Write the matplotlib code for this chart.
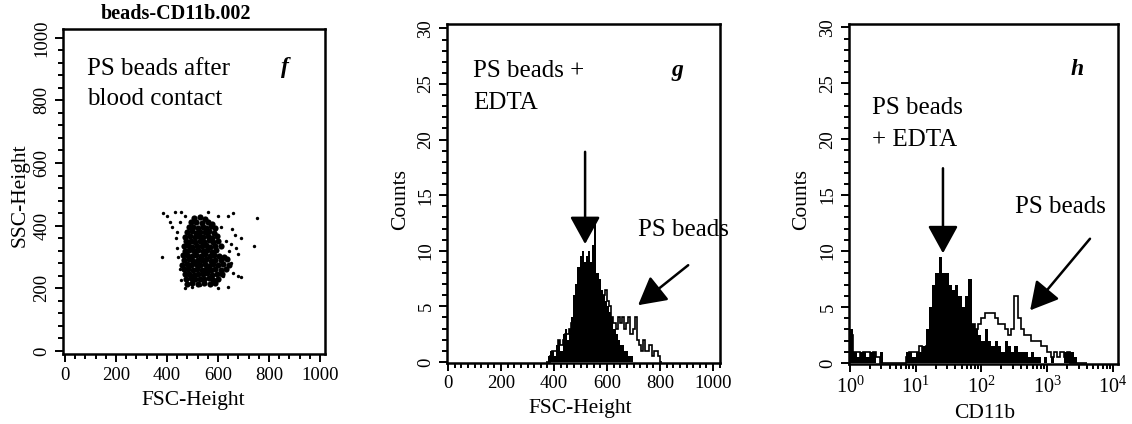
import numpy as np
import matplotlib
matplotlib.use("Agg")
import matplotlib.pyplot as plt
from matplotlib.ticker import MultipleLocator, LogLocator, NullFormatter

plt.rcParams['font.family'] = ['Liberation Serif', 'DejaVu Serif']
plt.rcParams['mathtext.fontset'] = 'stix'

# ---------------- data ----------------
# panel f : scatter (FSC-Height vs SSC-Height)
core_x = [505, 530, 548,
          495, 515, 538, 560, 575,
          488, 503, 522, 540, 555, 572, 590,
          478, 497, 512, 530, 548, 566, 583,
          470, 490, 508, 525, 541, 560, 578, 595,
          475, 493, 510, 528, 545, 563, 580, 602,
          465, 483, 500, 518, 536, 552, 570, 588, 610,
          470, 488, 505, 522, 540, 557, 575, 592,
          462, 480, 497, 515, 532, 550, 567, 585, 603, 625,
          468, 486, 503, 520, 538, 555, 573, 590, 612, 635,
          460, 477, 495, 512, 530, 548, 565, 582, 600, 620, 645,
          466, 484, 501, 518, 536, 553, 571, 590, 610, 630,
          470, 488, 506, 523, 541, 558, 576, 595, 615,
          475, 493, 510, 528, 546, 563, 582, 600,
          480, 498, 520, 545, 570, 590]
core_y = [425, 428, 422,
          410, 412, 408, 411, 406,
          395, 397, 393, 396, 394, 398, 392,
          380, 382, 378, 381, 379, 383, 377,
          365, 367, 363, 366, 364, 368, 362, 366,
          350, 352, 348, 351, 349, 353, 347, 351,
          335, 337, 333, 336, 334, 338, 332, 336, 334,
          320, 322, 318, 321, 319, 323, 317, 321,
          305, 307, 303, 306, 304, 308, 302, 306, 304, 300,
          290, 292, 288, 291, 289, 293, 287, 291, 289, 292,
          275, 277, 273, 276, 274, 278, 272, 276, 274, 277, 273,
          260, 262, 258, 261, 259, 263, 257, 261, 259, 262,
          245, 247, 243, 246, 244, 248, 242, 246, 244,
          230, 232, 228, 231, 229, 233, 227, 231,
          215, 217, 213, 218, 214, 216]
out_x = [385, 400, 430, 455, 470, 560, 600, 640, 660, 755, 420, 440, 410, 450,
         655, 665, 690, 740, 650, 670, 680, 380, 440, 445, 450, 660, 680, 690,
         470, 500, 530, 600, 640, 455, 620, 650, 435, 630, 645, 610]
out_y = [440, 430, 445, 445, 430, 445, 430, 430, 440, 425, 395, 380, 410, 410,
         390, 370, 360, 335, 340, 330, 310, 300, 330, 300, 260, 250, 240, 235,
         200, 205, 210, 200, 205, 225, 240, 280, 360, 350, 320, 395]

# panel g : FSC-Height histograms (bin width 8, first bin at 368)
g_start, g_width = 368, 8
g_edta = [0, 0.5, 1, 1, 0.5, 1.5, 2, 1, 2.5, 3, 2, 3, 4, 6, 7, 8.5, 9.5, 10, 9,
          9.5, 10, 9, 10.5, 13, 8, 7.5, 6.5, 6, 5.5, 5, 4.5, 4, 3, 2.5, 2, 1.5,
          1.5, 1, 1, 0.5, 0.5, 0, 0, 0, 0, 0, 0, 0, 0, 0, 0, 0, 0, 0, 0]
g_ps = [0, 0, 0.5, 1, 1, 1, 2, 1.5, 2, 2.5, 2.5, 3, 3.5, 3, 4, 4, 3.5, 4.5, 4,
        5, 5.5, 5, 6, 5, 5, 4.5, 5.5, 6, 6.5, 5.5, 5, 4, 3.5, 3, 4, 3.5, 4, 3,
        3.5, 4, 2.5, 3, 4, 2, 1.5, 1, 2, 1, 1, 1.5, 0.5, 1, 1, 0.5, 0]

# panel h : CD11b histograms (log bins of 0.05 decade starting at 10^0)
h_step = 0.05
h_edta = [3, 1, 0.5, 1, 1, 0.5, 1, 1, 0, 1, 0, 0, 0, 0, 0, 0, 0, 1, 1, 0.5,
          1, 1, 1.5, 3, 5, 7, 8, 9.5, 8, 8, 7, 6.5, 7, 6, 5, 6, 7.5, 3.5, 3,
          2.5, 2, 3, 2, 1.5, 2, 1.5, 1, 2, 1.5, 1, 1.5, 1, 1, 1, 0.5, 1, 0.5,
          0.5, 0, 0.5, 0, 0.5, 0, 0, 0, 1, 1, 1, 0.5, 0, 0, 0]
h_ps = [2.5, 1, 1, 0.5, 1, 1, 0.5, 1, 0.5, 0, 0, 0, 0, 0, 0, 0, 0, 0.5, 1, 1,
        1, 1.5, 1, 1.5, 2, 2, 2.5, 2, 2.5, 3, 2.5, 3, 2.5, 3, 2.5, 3, 3, 3.5,
        3, 3.5, 4, 4.5, 4.5, 4.5, 4, 3.5, 3.5, 3, 2.5, 3, 6, 4, 3, 2.5, 2.5,
        2, 2, 2, 1.5, 1.5, 1, 0.5, 1, 0.5, 1, 0.5, 1, 0, 0, 0, 0, 0]

lin_ticks = [0, 200, 400, 600, 800, 1000]
count_ticks = [0, 5, 10, 15, 20, 25, 30]

# ---------------- figure ----------------
W, H = 1132, 424
fig = plt.figure(figsize=(W / 100, H / 100), dpi=100)

ANN = 18
LAB = 15.5


def px_axes(l, t, r, b):
    return fig.add_axes([l / W, (H - b) / H, (r - l) / W, (b - t) / H])


def style(ax):
    for s in ax.spines.values():
        s.set_linewidth(1.8)
    ax.tick_params(which='both', direction='out', width=1.4, top=False, right=False)
    ax.tick_params(which='major', length=6, labelsize=13.5, pad=3)
    ax.tick_params(which='minor', length=3.5)
    plt.setp(ax.get_yticklabels(), rotation=90, va='center')


def fig_text(x, y, s, **kw):
    fig.text(x / W, 1 - y / H, s, ha='center', va='center', **kw)


# panel f
axf = px_axes(63, 29, 325, 354)
axf.scatter(core_x, core_y, s=20, c='black', marker='o', linewidths=0)
axf.scatter(out_x, out_y, s=6, c='black', marker='o', linewidths=0)
axf.set_xlim(-8, 1020)
axf.set_ylim(-10, 1028)
axf.set_xticks(lin_ticks)
axf.set_yticks(lin_ticks)
axf.xaxis.set_minor_locator(MultipleLocator(40))
axf.yaxis.set_minor_locator(MultipleLocator(40))
style(axf)
axf.text(86, 899, "PS beads after", fontsize=ANN, va='center', ha='left')
axf.text(86, 804, "blood contact", fontsize=ANN, va='center', ha='left')
axf.text(863, 905, "f", fontsize=17, fontweight='bold', fontstyle='italic', va='center', ha='center')
fig_text(176, 14, "beads-CD11b.002", fontsize=14.5, fontweight='bold')
fig_text(20, 195, "SSC-Height", fontsize=LAB, rotation=90)
fig_text(193, 401, "FSC-Height", fontsize=LAB)

# panel g
axg = px_axes(447, 24, 720, 363)
g_edges = g_start + g_width * np.arange(len(g_edta) + 1)
axg.stairs(g_edta, g_edges, fill=True, color='black')
axg.stairs(g_ps, g_edges, color='black', linewidth=1.2)
axg.set_xlim(-4, 1026)
axg.set_ylim(-0.1, 30.4)
axg.set_xticks(lin_ticks)
axg.set_yticks(count_ticks)
axg.xaxis.set_minor_locator(MultipleLocator(25))
axg.yaxis.set_minor_locator(MultipleLocator(1))
style(axg)
axg.text(94, 26.2, "PS beads +", fontsize=ANN, va='center', ha='left')
axg.text(94, 23.3, "EDTA", fontsize=ANN, va='center', ha='left')
axg.text(864, 26.2, "g", fontsize=17, fontweight='bold', fontstyle='italic', va='center', ha='center')
axg.text(717, 11.9, "PS beads", fontsize=ANN, va='center', ha='left')
arrow = dict(arrowstyle='-|>,head_length=1.0,head_width=0.55', mutation_scale=17,
             color='black', lw=1.8, shrinkA=0, shrinkB=0)
axg.annotate("", xy=(517, 10.6), xytext=(517, 18.9), arrowprops=arrow)
axg.annotate("", xy=(717, 5.1), xytext=(906, 8.7), arrowprops=arrow)
fig_text(401, 200, "Counts", fontsize=LAB, rotation=90)
fig_text(580, 409, "FSC-Height", fontsize=LAB)

# panel h
axh = px_axes(849, 24, 1118, 364)
h_edges = 10 ** (h_step * np.arange(len(h_edta) + 1))
axh.stairs(h_edta, h_edges, fill=True, color='black')
axh.stairs(h_ps, h_edges, color='black', linewidth=1.2)
axh.set_xscale('log')
axh.set_xlim(10 ** -0.015, 10 ** 4.076)
axh.set_ylim(-0.1, 30.3)
axh.xaxis.set_major_locator(LogLocator(base=10, numticks=10))
axh.xaxis.set_minor_locator(LogLocator(base=10, subs=np.arange(2, 10), numticks=20))
axh.xaxis.set_minor_formatter(NullFormatter())
axh.set_yticks(count_ticks)
axh.yaxis.set_minor_locator(MultipleLocator(1))
style(axh)
axh.tick_params(axis='x', which='major', labelsize=14.5)
axh.text(10 ** 0.33, 22.8, "PS beads", fontsize=ANN, va='center', ha='left')
axh.text(10 ** 0.33, 19.9, "+ EDTA", fontsize=ANN, va='center', ha='left')
axh.text(10 ** 3.45, 26.2, "h", fontsize=17, fontweight='bold', fontstyle='italic', va='center', ha='center')
axh.text(10 ** 2.51, 13.9, "PS beads", fontsize=ANN, va='center', ha='left')
axh.annotate("", xy=(10 ** 1.414, 9.8), xytext=(10 ** 1.414, 17.4), arrowprops=arrow)
axh.annotate("", xy=(10 ** 2.74, 4.7), xytext=(10 ** 3.65, 11.1), arrowprops=arrow)
fig_text(802, 200, "Counts", fontsize=LAB, rotation=90)
fig_text(985, 413, "CD11b", fontsize=LAB)

fig.savefig("out.png", dpi=100)
